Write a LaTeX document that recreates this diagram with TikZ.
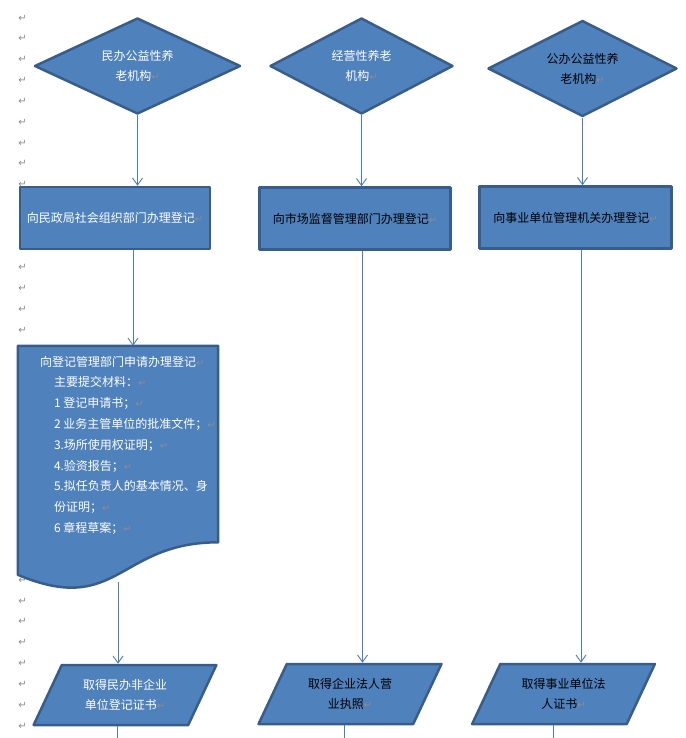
\documentclass[tikz,border=0pt]{standalone}
\usepackage{fontspec}
\setmainfont{Noto Sans CJK SC}
\newfontfamily\symfont{DejaVu Sans}
\usetikzlibrary{shapes.geometric,arrows.meta,calc}

\definecolor{boxfill}{HTML}{4F81BD}
\definecolor{boxedge}{HTML}{385D8A}
\definecolor{linkblue}{HTML}{4A7EBB}
\definecolor{markgray}{HTML}{8C8C8C}

\newcommand{\retmark}{{\symfont\fontsize{10}{10}\selectfont\textcolor{markgray}{↵}}}

\begin{document}
\begin{tikzpicture}[x=1pt,y=-1pt,
    flowbox/.style={draw=boxedge,fill=boxfill,line width=2.5pt,line join=round,
      inner sep=0pt,font=\fontsize{12}{20}\selectfont,align=center},
    choice/.style={flowbox,diamond,aspect=2,minimum width=#1,minimum height=96},
    stepbox/.style={flowbox,rectangle,minimum width=#1,minimum height=62},
    result/.style={flowbox,trapezium,trapezium left angle=59,trapezium right angle=121,
      trapezium stretches=true,minimum width=183,minimum height=60},
    retglyph/.style={inner sep=0pt},
    link/.style={draw=linkblue,line width=0.9pt},
    >={Straight Barb[length=7pt,width=10pt]}]

\useasboundingbox (0,0) rectangle (685,738);

% paragraph marks down the margin
\foreach \k in {0,...,34}
  \node[retglyph] (m\k) at (22.5,18+20.82*\k) {\retmark};

% Top row: kinds of institution
\node[choice=206,text=white] (d1) at (137.5,66) {民办公益性养\\老机构\retmark};
\node[choice=183,text=white] (d2) at (361.5,66) {经营性养老\\机构\retmark};
\node[choice=189,text=black] (d3) at (582.5,68.5) {公办公益性养\\老机构\retmark};

% Registration offices
\node[stepbox=190,text=white] (b1) at (115,218) {向民政局社会组织部门办理登记\retmark};
\node[stepbox=191,text=black] (b2) at (355,218.5) {向市场监督管理部门办理登记\retmark};
\node[stepbox=192,text=black] (b3) at (575.5,217.5) {向事业单位管理机关办理登记\retmark};

% Document with the list of materials
\node[inner sep=0pt,minimum width=200,minimum height=245] (reg) at (118,468.5) {};
\draw[draw=boxedge,fill=boxfill,line width=2.5pt,line join=round]
  (reg.north west) -- (reg.north east) -- ($(reg.north east)+(0,196.5)$)
  .. controls ($(reg.north)+(0,196.5)$) and ($(reg.north)+(0,271)$) ..
  ($(reg.north west)+(0,229)$) -- cycle;
\node[anchor=north west,inner sep=0pt,text=white,align=left,
  font=\fontsize{12}{20.8}\selectfont] (regtext) at ($(reg.north west)+(22,10)$)
  {向登记管理部门申请办理登记\retmark\\
   \hspace*{14pt}主要提交材料：\retmark\\
   \hspace*{14pt}1 登记申请书；\retmark\\
   \hspace*{14pt}2 业务主管单位的批准文件；\retmark\\
   \hspace*{14pt}3.场所使用权证明；\retmark\\
   \hspace*{14pt}4.验资报告；\retmark\\
   \hspace*{14pt}5.拟任负责人的基本情况、身\\
   \hspace*{14pt}份证明；\retmark\\
   \hspace*{14pt}6 章程草案；\retmark};

% Certificates
\node[result,text=white] (p1) at (125,695) {取得民办非企业\\单位登记证书\retmark};
\node[result,text=black] (p2) at (350,694) {取得企业法人营\\业执照\retmark};
\node[result,text=black] (p3) at (563.5,694) {取得事业单位法\\人证书\retmark};

\coordinate (b1out) at ($(b1.south)+(18,0)$);
\coordinate (b2out) at ($(b2.south)+(7.5,0)$);
\coordinate (b3out) at ($(b3.south)+(5.5,0)$);
\coordinate (regout) at ($(reg.south)+(0,-9)$);
\coordinate (p1end) at (117,745);
\coordinate (p2end) at (344,745);
\coordinate (p3end) at (553,745);

% Connectors
\draw[link,->] (d1.south) -- (d1.south |- b1.north);
\draw[link,->] (d2.south) -- (d2.south |- b2.north);
\draw[link,->] (d3.south) -- (d3.south |- b3.north);
\draw[link,->] (b1out) -- (b1out |- reg.north);
\draw[link,->] (regout) -- (regout |- p1.north);
\draw[link,->] (b2out) -- (b2out |- p2.north);
\draw[link,->] (b3out) -- (b3out |- p3.north);
\draw[link] (p1end |- p1.south) -- (p1end);
\draw[link] (p2end |- p2.south) -- (p2end);
\draw[link] (p3end |- p3.south) -- (p3end);

\end{tikzpicture}
\end{document}
